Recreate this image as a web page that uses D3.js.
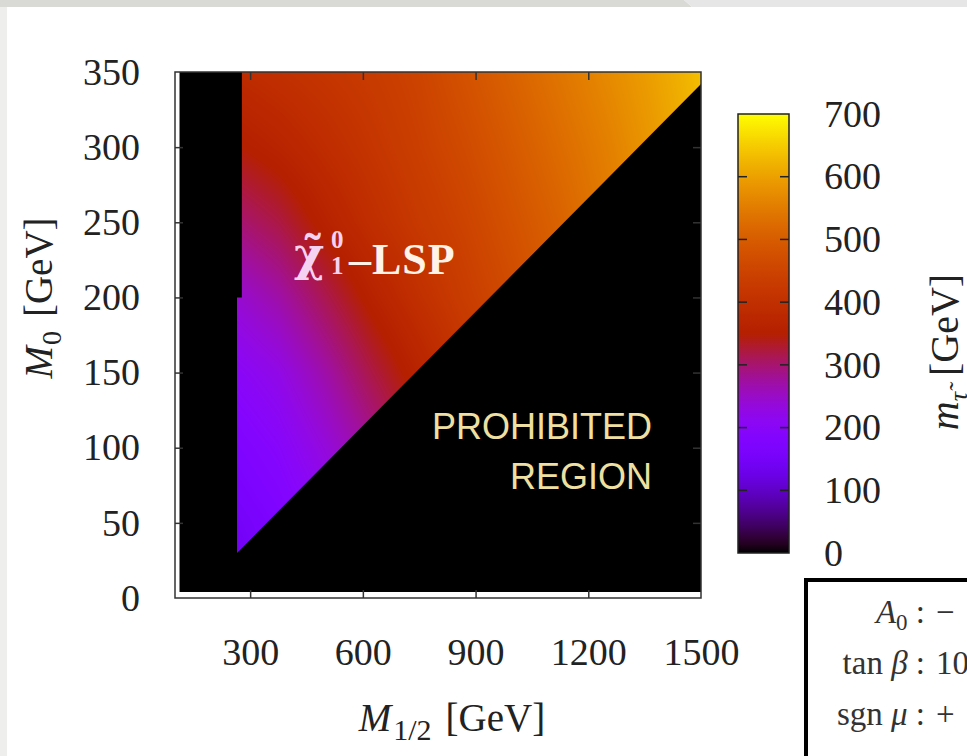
<!DOCTYPE html>
<html>
<head>
<meta charset="utf-8">
<script src="https://cdn.jsdelivr.net/npm/d3@7"></script>
<style>
  html, body { margin: 0; padding: 0; background: #fff; overflow: hidden; }
  svg { display: block; }
  text { font-family: "Liberation Serif", "DejaVu Serif", serif; fill: #222; }
</style>
</head>
<body>
<div id="chart"></div>
<script>
// grid: stau mass (GeV) at each (M1/2, M0)
const m12Grid = [250, 375, 500, 625, 750, 875, 1000, 1125, 1250, 1375, 1500];
const m0Grid = [0, 50, 100, 150, 200, 250, 300, 350];
const mStau = [
    [130, 155, 190, 230, 275, 325, 375, 425, 475, 520, 565],
    [145, 170, 205, 250, 300, 350, 400, 450, 495, 540, 575],
    [170, 195, 235, 280, 330, 380, 425, 470, 510, 550, 585],
    [200, 225, 270, 320, 365, 410, 450, 485, 520, 560, 595],
    [240, 270, 315, 360, 400, 435, 465, 500, 535, 570, 605],
    [295, 320, 360, 395, 425, 450, 480, 510, 545, 580, 615],
    [345, 365, 390, 415, 440, 465, 495, 525, 555, 590, 625],
    [385, 400, 415, 430, 450, 480, 510, 540, 570, 600, 635],
];

// neutralino-LSP region outline (M1/2, M0)
const lspRegion = [[265, 30], [265, 200], [278, 200], [278, 350], [1500, 350], [1500, 342]];
// scanned area of the parameter space
const scanX = [112, 1500];
const scanY = [4, 350];

const xTicks = [300, 600, 900, 1200, 1500];
const yTicks = [0, 50, 100, 150, 200, 250, 300, 350];
const cTicks = [0, 100, 200, 300, 400, 500, 600, 700];

const width = 967;
const height = 756;

const svg = d3.select('#chart')
    .append('svg')
    .attr('width', width)
    .attr('height', height);

// slide background strips
svg.append('rect').attr('x', 0).attr('y', 0).attr('width', 7).attr('height', height).attr('fill', '#eeeeec');
svg.append('path').attr('d', 'M0,0 H684 L692,7 H0 Z').attr('fill', '#d9d9d5');
svg.append('path').attr('d', 'M684,0 H967 V7 H692 Z').attr('fill', '#e6e6e6');

const xScale = d3.scaleLinear().domain([100, 1500]).range([175, 701]);
const yScale = d3.scaleLinear().domain([0, 350]).range([598, 72]);

// gnuplot default palette (rgbformulae 7,5,15)
const palette = (t) => {
    t = Math.max(0, Math.min(1, t));
    return d3.rgb(255 * Math.sqrt(t), 255 * t * t * t, 255 * Math.max(0, Math.sin(2 * Math.PI * t)));
};
const colorScale = d3.scaleSequential(palette).domain([0, 700]);

function bilinear(xv, yv) {
    const locate = (arr, v) => {
        let i = d3.bisectRight(arr, v) - 1;
        i = Math.max(0, Math.min(arr.length - 2, i));
        const t = Math.max(0, Math.min(1, (v - arr[i]) / (arr[i + 1] - arr[i])));
        return [i, t];
    };
    const [i, tx] = locate(m12Grid, xv);
    const [j, ty] = locate(m0Grid, yv);
    const a = mStau[j][i], b = mStau[j][i + 1];
    const c = mStau[j + 1][i], d = mStau[j + 1][i + 1];
    return (a * (1 - tx) + b * tx) * (1 - ty) + (c * (1 - tx) + d * tx) * ty;
}

const defs = svg.append('defs');

// black scanned area
svg.append('rect')
    .attr('x', xScale(scanX[0]))
    .attr('y', yScale(scanY[1]))
    .attr('width', xScale(scanX[1]) - xScale(scanX[0]))
    .attr('height', yScale(scanY[0]) - yScale(scanY[1]))
    .attr('fill', '#000');

// heat map drawn to a canvas, clipped to the LSP region
const px0 = xScale.range()[0], px1 = xScale.range()[1];
const py0 = yScale.range()[1], py1 = yScale.range()[0];
const cw = Math.round(px1 - px0), ch = Math.round(py1 - py0);
const canvas = document.createElement('canvas');
canvas.width = cw;
canvas.height = ch;
const ctx = canvas.getContext('2d');
const img = ctx.createImageData(cw, ch);
for (let py = 0; py < ch; py++) {
    for (let px = 0; px < cw; px++) {
        const v = bilinear(xScale.invert(px0 + px + 0.5), yScale.invert(py0 + py + 0.5));
        const c = d3.rgb(colorScale(v));
        const k = (py * cw + px) * 4;
        img.data[k] = c.r;
        img.data[k + 1] = c.g;
        img.data[k + 2] = c.b;
        img.data[k + 3] = 255;
    }
}
ctx.putImageData(img, 0, 0);

defs.append('clipPath').attr('id', 'lsp')
    .append('path')
    .attr('d', d3.line().x((d) => xScale(d[0])).y((d) => yScale(d[1]))(lspRegion) + 'Z');

svg.append('image')
    .attr('href', canvas.toDataURL())
    .attr('x', px0).attr('y', py0)
    .attr('width', cw).attr('height', ch)
    .attr('preserveAspectRatio', 'none')
    .attr('clip-path', 'url(#lsp)');

// inward ticks on all four sides
const tickLen = 8;
const innerTicks = (axis, transform) => {
    const g = svg.append('g').attr('transform', transform).call(axis);
    g.select('.domain').remove();
    g.selectAll('line').attr('stroke', '#333').attr('stroke-width', 1.5);
};
innerTicks(d3.axisBottom(xScale).tickValues(xTicks.slice(0, -1)).tickSize(-tickLen).tickFormat(''), `translate(0,${py1})`);
innerTicks(d3.axisTop(xScale).tickValues(xTicks.slice(0, -1)).tickSize(-tickLen).tickFormat(''), `translate(0,${py0})`);
innerTicks(d3.axisLeft(yScale).tickValues(yTicks.slice(1, -1)).tickSize(-tickLen).tickFormat(''), `translate(${px0},0)`);
innerTicks(d3.axisRight(yScale).tickValues(yTicks.slice(1, -1)).tickSize(-tickLen).tickFormat(''), `translate(${px1},0)`);

// frame
svg.append('rect')
    .attr('x', px0).attr('y', py0)
    .attr('width', px1 - px0).attr('height', py1 - py0)
    .attr('fill', 'none')
    .attr('stroke', '#333')
    .attr('stroke-width', 1.5);

// tick labels
const xAxis = svg.append('g')
    .attr('transform', `translate(0,${py1})`)
    .call(d3.axisBottom(xScale).tickValues(xTicks).tickFormat(d3.format('d')).tickSize(0).tickPadding(40));
const yAxis = svg.append('g')
    .attr('transform', `translate(${px0},0)`)
    .call(d3.axisLeft(yScale).tickValues(yTicks).tickFormat(d3.format('d')).tickSize(0).tickPadding(35));
[xAxis, yAxis].forEach((g) => {
    g.select('.domain').remove();
    g.selectAll('text')
        .style('font-family', '"Liberation Serif", serif')
        .style('font-size', '38px')
        .style('fill', '#222');
});

// axis titles
const xTitle = svg.append('text')
    .attr('x', 452).attr('y', 731)
    .attr('text-anchor', 'middle')
    .style('font-size', '39px');
xTitle.append('tspan').attr('font-style', 'italic').text('M');
xTitle.append('tspan').attr('dx', 2).attr('dy', 9).style('font-size', '30px').text('1/2');
xTitle.append('tspan').attr('dx', 14).attr('dy', -9).text('[GeV]');

const yTitle = svg.append('text')
    .attr('transform', 'translate(52,298) rotate(-90)')
    .attr('text-anchor', 'middle')
    .style('font-size', '39px');
yTitle.append('tspan').attr('font-style', 'italic').text('M');
yTitle.append('tspan').attr('dx', 1).attr('dy', 9).style('font-size', '28px').text('0');
yTitle.append('tspan').attr('dx', 14).attr('dy', -9).text('[GeV]');

// colour bar
const cbX = 738, cbW = 51;
const cScale = d3.scaleLinear().domain([0, 700]).range([553, 114]);
const grad = defs.append('linearGradient')
    .attr('id', 'cbar')
    .attr('x1', 0).attr('y1', 1).attr('x2', 0).attr('y2', 0);
d3.range(0, 1.0001, 0.02).forEach((t) => {
    grad.append('stop').attr('offset', t).attr('stop-color', colorScale(t * 700));
});
svg.append('rect')
    .attr('x', cbX).attr('y', cScale(700))
    .attr('width', cbW).attr('height', cScale(0) - cScale(700))
    .attr('fill', 'url(#cbar)')
    .attr('stroke', '#222')
    .attr('stroke-width', 1.5);

const cbTicks = svg.append('g');
cbTicks.selectAll('line.l')
    .data(cTicks.slice(1, -1))
    .join('line')
    .attr('x1', cbX).attr('x2', cbX + 9)
    .attr('y1', (d) => cScale(d)).attr('y2', (d) => cScale(d));
cbTicks.selectAll('line.r')
    .data(cTicks.slice(1, -1))
    .enter().append('line')
    .attr('x1', cbX + cbW - 9).attr('x2', cbX + cbW)
    .attr('y1', (d) => cScale(d)).attr('y2', (d) => cScale(d));
cbTicks.selectAll('line').attr('stroke', '#222').attr('stroke-width', 1.5);

const cAxis = svg.append('g')
    .attr('transform', `translate(${cbX + cbW},0)`)
    .call(d3.axisRight(cScale).tickValues(cTicks).tickSize(0).tickPadding(35));
cAxis.select('.domain').remove();
cAxis.selectAll('text')
    .style('font-family', '"Liberation Serif", serif')
    .style('font-size', '38px')
    .style('fill', '#222');

const cTitle = svg.append('text')
    .attr('transform', 'translate(958,352) rotate(-90)')
    .attr('text-anchor', 'middle')
    .style('font-size', '40px');
cTitle.append('tspan').attr('font-style', 'italic').text('m');
cTitle.append('tspan').attr('dy', 9).attr('font-style', 'italic').style('font-size', '26px').text('τ\u0303');
cTitle.append('tspan').attr('dx', 16).attr('dy', -9).text('[GeV]');

// annotations: neutralino-LSP label
const pink = '#f6d2f2';
const lsp = svg.append('g').style('font-weight', 'bold');
lsp.append('text').attr('x', 294).attr('y', 270)
    .style('font-family', '"DejaVu Serif", serif')
    .style('font-size', '46px').style('fill', pink)
    .text('χ\u0303');
lsp.append('text').attr('x', 331).attr('y', 248).style('font-size', '25px').style('fill', pink).text('0');
lsp.append('text').attr('x', 331).attr('y', 274).style('font-size', '25px').style('fill', pink).text('1');
lsp.append('text').attr('x', 349).attr('y', 274)
    .style('font-size', '44px').style('letter-spacing', '1px')
    .style('fill', '#fff2e6').text('–LSP');

svg.append('g')
    .selectAll('text')
    .data(['PROHIBITED', 'REGION'])
    .join('text')
    .attr('x', 652)
    .attr('y', (d, i) => 439 + i * 50)
    .attr('text-anchor', 'end')
    .style('fill', '#efe0a2')
    .style('font-family', '"Liberation Sans", Arial, sans-serif')
    .style('font-size', '36px')
    .text((d) => d);

// parameter box (cut by the slide edge)
svg.append('rect')
    .attr('x', 806).attr('y', 580)
    .attr('width', 220).attr('height', 220)
    .attr('fill', '#fff')
    .attr('stroke', '#000')
    .attr('stroke-width', 4);

const params = [
    { name: ['A', '0'], value: '−' },
    { name: ['tan ', 'β'], value: '10' },
    { name: ['sgn ', 'μ'], value: '+' },
];
const rows = svg.append('g').style('font-size', '33px');
params.forEach((p, i) => {
    const yy = 623 + i * 51;
    const t = rows.append('text').attr('x', 925).attr('y', yy).attr('text-anchor', 'end').style('fill', '#333');
    if (i === 0) {
        t.append('tspan').attr('font-style', 'italic').text('A');
        t.append('tspan').attr('dy', 7).style('font-size', '23px').text('0');
        t.append('tspan').attr('dy', -7).text(' :');
    } else {
        t.append('tspan').text(p.name[0]);
        t.append('tspan').attr('font-style', 'italic').text(p.name[1]);
        t.append('tspan').text(' :');
    }
    rows.append('text').attr('x', 936).attr('y', yy).style('fill', '#333').text(p.value);
});
</script>
</body>
</html>
